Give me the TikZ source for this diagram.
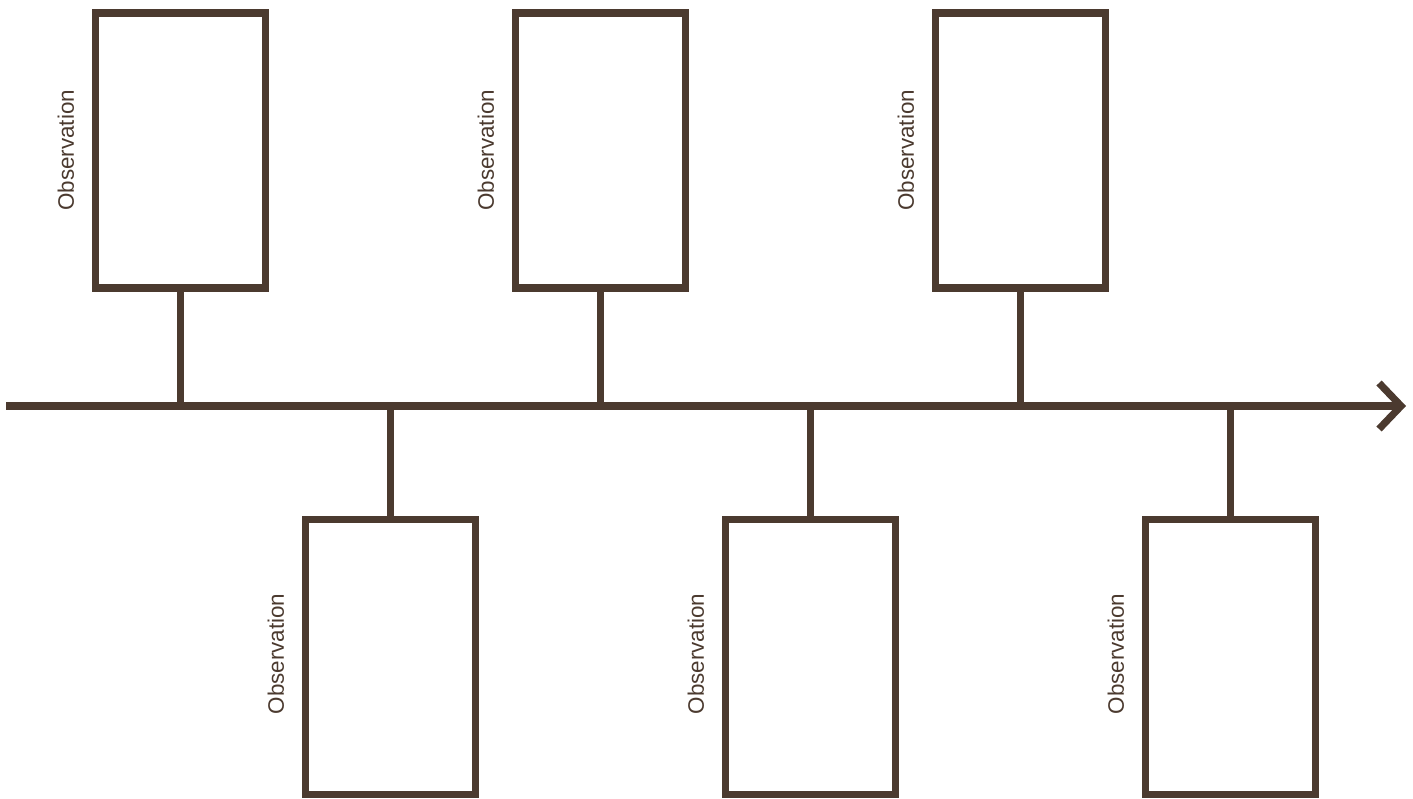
\documentclass[tikz,border=0pt]{standalone}
\usepackage{fontspec}
\setmainfont{Liberation Sans}
\usetikzlibrary{arrows.meta}
\definecolor{bark}{HTML}{4B3A2F}
\tikzset{
	obsbox/.style={draw=bark,line width=3.7pt,minimum width=85pt,minimum height=137.5pt,inner sep=0pt},
	obslabel/.style={rotate=90,anchor=south,inner sep=0pt,text=bark,font=\fontsize{11.2pt}{13pt}\selectfont},
}
\begin{document}
\begin{tikzpicture}[x=0.5pt,y=-0.5pt]
\useasboundingbox (0,0) rectangle (1413,798);
\pgfmathsetmacro{\ya}{406}
\pgfmathsetmacro{\yt}{150.3}
\pgfmathsetmacro{\yb}{657}
% time line
\coordinate (start) at (6,\ya);
\coordinate (end) at (1406,\ya);
\draw[bark,line width=3.6pt,-{Straight Barb[sharp,length=11pt,width=23pt]}] (start)--(end);
% boxes above the line
\node[obsbox] (t1) at (180.5,\yt) {};
\node[obsbox] (t2) at (600.5,\yt) {};
\node[obsbox] (t3) at (1020.5,\yt) {};
% boxes below the line
\node[obsbox] (b1) at (390.5,\yb) {};
\node[obsbox] (b2) at (810.5,\yb) {};
\node[obsbox] (b3) at (1230.5,\yb) {};
% labels
\node[obslabel] (lt1) at ([xshift=-8.7pt]t1.west) {Observation};
\node[obslabel] (lt2) at ([xshift=-8.7pt]t2.west) {Observation};
\node[obslabel] (lt3) at ([xshift=-8.7pt]t3.west) {Observation};
\node[obslabel] (lb1) at ([xshift=-8.7pt,yshift=1.5pt]b1.west) {Observation};
\node[obslabel] (lb2) at ([xshift=-8.7pt,yshift=1.5pt]b2.west) {Observation};
\node[obslabel] (lb3) at ([xshift=-8.7pt,yshift=1.5pt]b3.west) {Observation};
% stems
\begin{scope}[bark,line width=3.6pt]
\coordinate (s1) at (180.5,\ya);
\coordinate (s2) at (390.5,\ya);
\coordinate (s3) at (600.5,\ya);
\coordinate (s4) at (810.5,\ya);
\coordinate (s5) at (1020.5,\ya);
\coordinate (s6) at (1230.5,\ya);
\draw (t1)--(s1) (t2)--(s3) (t3)--(s5);
\draw (b1)--(s2) (b2)--(s4) (b3)--(s6);
\end{scope}
\end{tikzpicture}
\end{document}
